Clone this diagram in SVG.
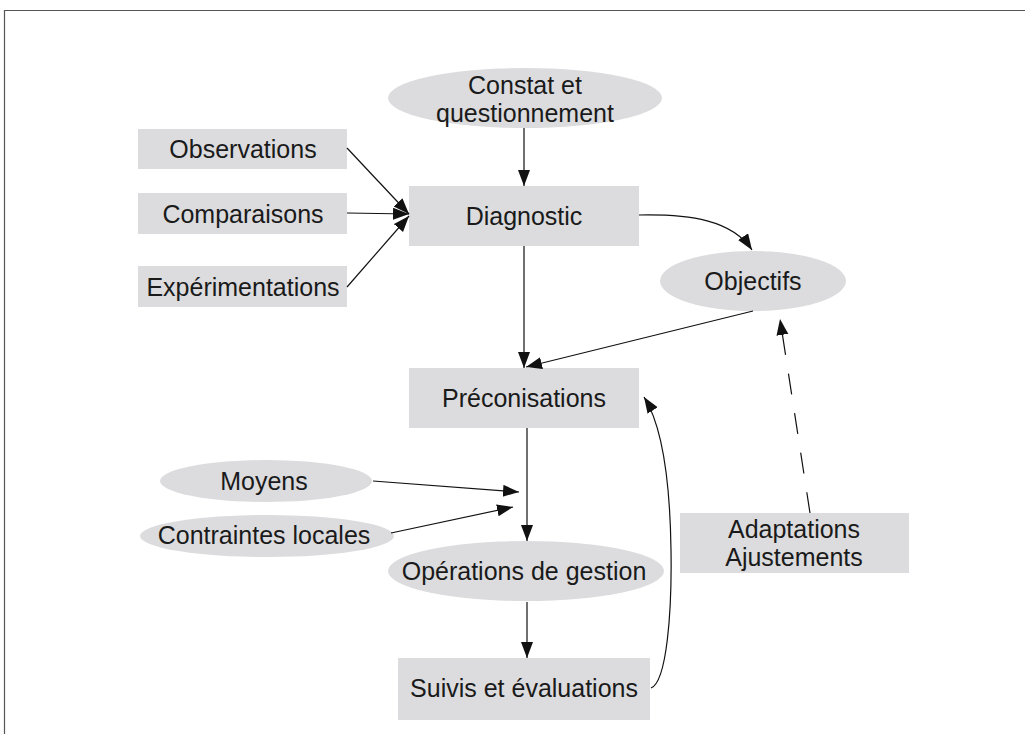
<svg xmlns="http://www.w3.org/2000/svg" width="1025" height="734" viewBox="0 0 1025 734">
<style>
.box{fill:#dcdcde;}
.t{font-family:"Liberation Sans",Arial,sans-serif;font-size:25px;fill:#1a1a1a;text-anchor:middle;}
.c{fill:none;stroke:#111;stroke-width:1.2;}
</style>
<defs>
<marker id="ah" markerUnits="userSpaceOnUse" markerWidth="18" markerHeight="14" refX="16" refY="6" orient="auto">
<path d="M0,0 L16,6 L0,12 z" fill="#111"/>
</marker>
</defs>
<rect width="1025" height="734" fill="#fff"/>
<path d="M4.5,740 L4.5,10.5 L1030,10.5" fill="none" stroke="#555" stroke-width="1.2"/>

<g id="constat"><ellipse class="box" cx="525" cy="98" rx="137" ry="30"/><text class="t" x="525" y="94">Constat et</text><text class="t" x="525" y="122">questionnement</text></g>
<g id="observations"><rect class="box" x="138" y="129" width="209" height="40"/><text class="t" x="243" y="158">Observations</text></g>
<g id="comparaisons"><rect class="box" x="138" y="193" width="209" height="41"/><text class="t" x="243" y="223">Comparaisons</text></g>
<g id="experimentations"><rect class="box" x="138" y="266" width="209" height="41"/><text class="t" x="243" y="296">Expérimentations</text></g>
<g id="diagnostic"><rect class="box" x="409" y="186" width="230" height="60"/><text class="t" x="524" y="225">Diagnostic</text></g>
<g id="objectifs"><ellipse class="box" cx="753" cy="281" rx="93" ry="30"/><text class="t" x="753" y="290">Objectifs</text></g>
<g id="preconisations"><rect class="box" x="409" y="368" width="230" height="60"/><text class="t" x="524" y="407">Préconisations</text></g>
<g id="moyens"><ellipse class="box" cx="266" cy="481" rx="106" ry="21"/><text class="t" x="264" y="490">Moyens</text></g>
<g id="contraintes"><ellipse class="box" cx="267" cy="536" rx="127" ry="21"/><text class="t" x="264" y="544">Contraintes locales</text></g>
<g id="operations"><ellipse class="box" cx="526" cy="571" rx="138" ry="30"/><text class="t" x="524" y="580">Opérations de gestion</text></g>
<g id="suivis"><rect class="box" x="398" y="658" width="252" height="62"/><text class="t" x="524" y="697">Suivis et évaluations</text></g>
<g id="adaptations"><rect class="box" x="680" y="513" width="229" height="60"/><text class="t" x="794" y="538">Adaptations</text><text class="t" x="794" y="566">Ajustements</text></g>

<g id="connectors">
<path class="c" d="M524,128 L524,186" marker-end="url(#ah)"/>
<path class="c" d="M347,148 L409,214" marker-end="url(#ah)"/>
<path class="c" d="M347,213 L409,214" marker-end="url(#ah)"/>
<path class="c" d="M347,287 L409,216" marker-end="url(#ah)"/>
<path class="c" d="M639,215 C690,214 732,220 752,250" marker-end="url(#ah)"/>
<path class="c" d="M524,246 L524,368" marker-end="url(#ah)"/>
<path class="c" d="M753,311 L526,367" marker-end="url(#ah)"/>
<path class="c" d="M810,513 L780,319" stroke-dasharray="21 19" marker-end="url(#ah)"/>
<path class="c" d="M527,428 L527,541" marker-end="url(#ah)"/>
<path class="c" d="M373,481 L519,492" marker-end="url(#ah)"/>
<path class="c" d="M391,533 L513,507" marker-end="url(#ah)"/>
<path class="c" d="M527,602 L527,658" marker-end="url(#ah)"/>
<path class="c" d="M651,688 C667,682 672,610 671,550 C670,480 662,425 644,397" marker-end="url(#ah)"/>
</g>
</svg>
